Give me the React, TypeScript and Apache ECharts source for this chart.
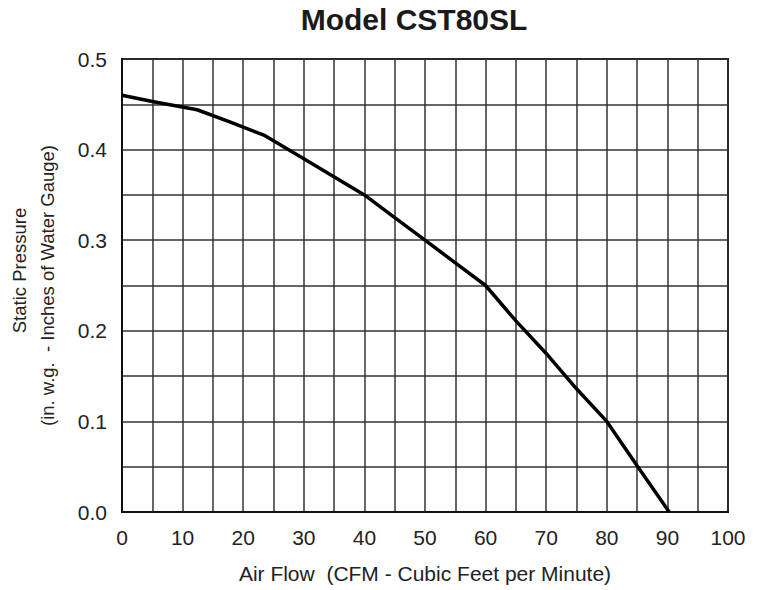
import React, { useEffect, useRef } from "react";
import * as echarts from "echarts";

const TITLE = "Model CST80SL";
const X_NAME = "Air Flow  (CFM - Cubic Feet per Minute)";
const Y_NAME_1 = "Static Pressure";
const Y_NAME_2 = "(in. w.g.  - Inches of Water Gauge)";
const airFlow = [0, 5, 12.4, 18, 23.4, 30, 40, 45, 50, 55, 60, 65, 70, 75, 80, 85, 90.3];
const pressure = [0.46, 0.453, 0.444, 0.43, 0.416, 0.39, 0.35, 0.325, 0.3, 0.275, 0.25, 0.211, 0.175, 0.136, 0.1, 0.051, 0];

export default function App() {
  const ref = useRef<HTMLDivElement>(null);
  useEffect(() => {
    if (!ref.current) return;
    document.body.style.margin = "0";
    const chart = echarts.init(ref.current, null, { renderer: "svg" });
    const font = "'Liberation Sans', Arial, Helvetica, sans-serif";
    const gridLine = { lineStyle: { color: "#333", width: 1.5 } };
    const nameStyle = { fontSize: 18.5, color: "#222", lineHeight: 28, fontFamily: font };
    chart.setOption({
      animation: false,
      backgroundColor: "#fff",
      textStyle: { fontFamily: font },
      graphic: [
        {
          type: "text",
          x: 414,
          y: 4,
          style: {
            text: TITLE,
            font: `bold 30px ${font}`,
            fill: "#1a1a1a",
            textAlign: "center",
            textVerticalAlign: "top",
          },
        },
      ],
      grid: {
        left: 122,
        right: 33,
        top: 59,
        bottom: 78,
        containLabel: false,
        outerBoundsMode: "none",
        show: true,
        borderColor: "#111",
        borderWidth: 2,
      },
      xAxis: {
        type: "value",
        min: 0,
        max: 100,
        interval: 10,
        name: X_NAME,
        nameLocation: "middle",
        nameGap: 51,
        nameTextStyle: { fontSize: 21, color: "#222", fontFamily: font },
        axisLine: { show: true, lineStyle: { color: "#111", width: 2 } },
        axisTick: { show: false },
        axisLabel: { fontSize: 21, color: "#222", margin: 15, fontFamily: font },
        splitLine: { show: true, ...gridLine },
        minorTick: { show: false, splitNumber: 2 },
        minorSplitLine: { show: true, ...gridLine },
      },
      yAxis: {
        type: "value",
        min: 0,
        max: 0.5,
        interval: 0.1,
        name: `{a|${Y_NAME_1}}\n{b|${Y_NAME_2}}`,
        nameLocation: "middle",
        nameRotate: 90,
        nameGap: 61,
        nameTextStyle: {
          ...nameStyle,
          rich: {
            a: { ...nameStyle, padding: [0, 0, 0, 30] },
            b: { ...nameStyle },
          },
        },
        axisLine: { show: true, lineStyle: { color: "#111", width: 2 } },
        axisTick: { show: false },
        axisLabel: {
          fontSize: 21,
          color: "#222",
          margin: 15,
          fontFamily: font,
          formatter: (v: number) => v.toFixed(1),
        },
        splitLine: { show: true, ...gridLine },
        minorTick: { show: false, splitNumber: 2 },
        minorSplitLine: { show: true, ...gridLine },
      },
      series: [
        {
          type: "line",
          data: airFlow.map((x, i) => [x, pressure[i]]),
          showSymbol: false,
          symbol: "none",
          lineStyle: { color: "#000", width: 3.5 },
          smooth: false,
          z: 10,
        },
      ],
    });
    return () => chart.dispose();
  }, []);
  return <div ref={ref} style={{ width: 761, height: 590 }} />;
}
